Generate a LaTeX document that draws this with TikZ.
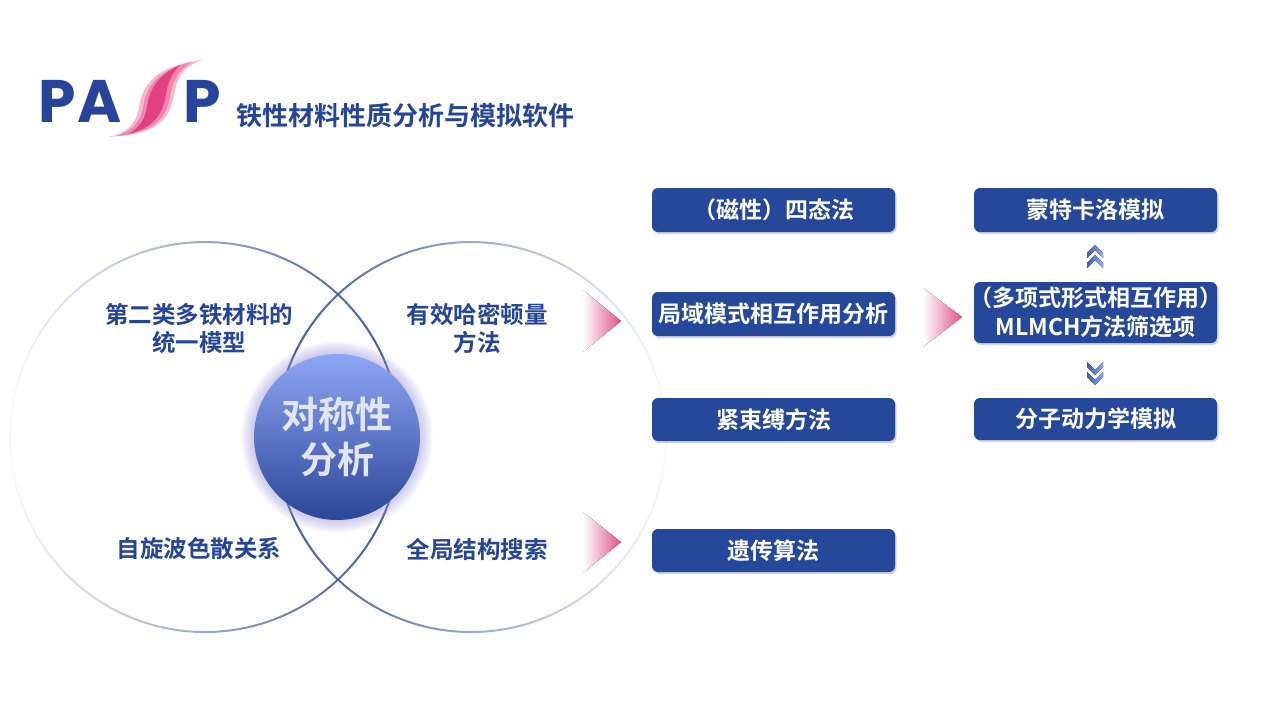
\documentclass[tikz,border=0pt]{standalone}
\usepackage{fontspec}
\newfontfamily\cjk{Noto Sans CJK SC}[BoldFont={Noto Sans CJK SC Bold}]
\newfontfamily\logofont{Poppins}
\usetikzlibrary{fadings,shadows}
\definecolor{boxblue}{HTML}{26489A}
\definecolor{textblue}{HTML}{25449A}
\definecolor{circline}{HTML}{3B5598}
\definecolor{arrowpink}{HTML}{E1508C}
\definecolor{symtop}{HTML}{8EA6F4}
\definecolor{symbot}{HTML}{2B4597}
\definecolor{symtext}{HTML}{E2E6F4}
\definecolor{glowcol}{HTML}{9A98DE}
\definecolor{chevdark}{HTML}{3D5CBA}
\definecolor{chevlight}{HTML}{93AAF4}
\definecolor{pinkA}{HTML}{F5B8CF}
\definecolor{pinkB}{HTML}{EE86B0}
\definecolor{pinkC}{HTML}{E2407F}
\tikzfading[name=fadeL, left color=transparent!97, middle color=transparent!82, right color=transparent!0]
\tikzfading[name=fadeR, left color=transparent!0, middle color=transparent!82, right color=transparent!97]
\tikzset{
  stepbox/.style={draw=none, fill=boxblue, rounded corners=6pt, minimum width=243pt,
    inner sep=0pt, text=white, align=center,
    font=\cjk\bfseries\fontsize{23}{29}\selectfont,
    drop shadow={shadow xshift=1.5pt, shadow yshift=-2pt, opacity=0.18, fill=black!60!blue}},
  circtext/.style={text=textblue, align=center, font=\cjk\bfseries\fontsize{23.5}{28}\selectfont},
  pinkarrow/.style={left color=white, right color=arrowpink, draw=none},
  chevron/.style={left color=chevdark, right color=chevlight, draw=none},
  logoletter/.style={anchor=base west, inner sep=0pt, text=textblue, font=\logofont\bfseries\fontsize{60}{60}\selectfont}
}
\begin{document}
\begin{tikzpicture}[x=1pt,y=-1pt]
\path[use as bounding box, fill=white] (0,0) rectangle (1280,726);

% ---- logo ----
\node (logoP1) [logoletter] at (38,122) {P};
\node (logoA) [logoletter] at (77,122) {A};
\node (logoP2) [logoletter] at (183,122) {P};
\fill[pinkA] (108,137) .. controls (125,134) and (136,125) .. (139,108) .. controls (142,85) and (155,66) .. (202,60) .. controls (185,66) and (178,75) .. (175,90) .. controls (170,118) and (162,134) .. (108,137) -- cycle;
\fill[pinkB] (116,136) .. controls (130,132) and (140,124) .. (143,108) .. controls (146,87) and (157,70) .. (192,62) .. controls (180,69) and (174,78) .. (171,92) .. controls (167,117) and (158,132) .. (116,136) -- cycle;
\fill[pinkC] (128,134) .. controls (138,129) and (145,120) .. (147,107) .. controls (150,88) and (158,75) .. (180,65) .. controls (172,73) and (168,82) .. (166,94) .. controls (163,115) and (153,128) .. (128,134) -- cycle;
\node (subtitle) [anchor=west, inner sep=0pt, text=textblue, font=\cjk\bfseries\fontsize{26}{26}\selectfont] at (236,116) {铁性材料性质分析与模拟软件};

% ---- circles ----
\draw[circline, line width=2pt, path fading=fadeL] (205,437) circle[radius=195];
\draw[circline, line width=2pt, path fading=fadeR] (471,437) circle[radius=195];

% glow
\foreach \i in {0,...,9} {
  \fill[glowcol, opacity=0.06] (337,437) circle[radius=84+1.3*\i];
}
\node (sym) [circle, minimum size=166pt, inner sep=0pt, top color=symtop, bottom color=symbot,
  text=symtext, align=center, font=\cjk\bfseries\fontsize{37}{45}\selectfont] at (337,437) {对称性\\分析};

\node (t1) [circtext] at (199,328.5) {第二类多铁材料的\\统一模型};
\node (t2) [circtext] at (477,328.5) {有效哈密顿量\\方法};
\node (t3) [circtext] at (199,549) {自旋波色散关系};
\node (t4) [circtext] at (477,549) {全局结构搜索};

% ---- arrows ----
\fill[pinkarrow] (583,290) -- (621,321) -- (583,352) -- cycle;
\fill[pinkarrow] (583,512) -- (621,542) -- (583,573) -- cycle;
\fill[pinkarrow] (923,288) -- (962,317) -- (923,347) -- cycle;

% ---- boxes ----
\node (bA) [stepbox, minimum height=44pt] at (773.5,210) {（磁性）四态法};
\node (bB) [stepbox, minimum height=44pt] at (773.5,314) {局域模式相互作用分析};
\node (bC) [stepbox, minimum height=43pt] at (773.5,419.5) {紧束缚方法};
\node (bD) [stepbox, minimum height=43pt] at (773.5,550.5) {遗传算法};
\node (bE) [stepbox, minimum height=44pt] at (1095.5,210) {蒙特卡洛模拟};
\node (bF) [stepbox, minimum height=61pt] at (1095.5,312.5) {\makebox[0pt]{（多项式形式相互作用）}\\\makebox[0pt]{MLMCH方法筛选项}};
\node (bG) [stepbox, minimum height=42pt] at (1095.5,419) {分子动力学模拟};

% ---- chevrons ----
\foreach \cy in {251,261} {
  \fill[chevron] (1087,\cy+2) -- (1095,\cy-6) -- (1103,\cy+2) -- (1103,\cy+7) -- (1095,\cy-1) -- (1087,\cy+7) -- cycle;
}
\foreach \cy in {369,379} {
  \fill[chevron] (1087,\cy-2) -- (1095,\cy+6) -- (1103,\cy-2) -- (1103,\cy-7) -- (1095,\cy+1) -- (1087,\cy-7) -- cycle;
}
\end{tikzpicture}
\end{document}
